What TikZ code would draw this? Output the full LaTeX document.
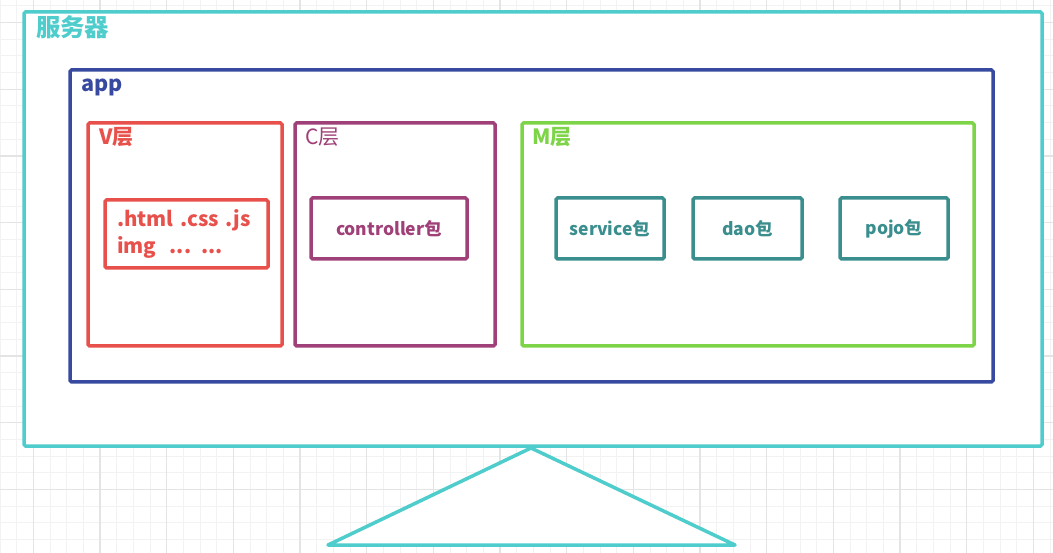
\documentclass[tikz,border=0pt]{standalone}
\usepackage{fontspec}
\setmainfont{Noto Sans CJK SC}
\definecolor{srvc}{RGB}{78,205,204}
\definecolor{appc}{RGB}{56,74,160}
\definecolor{vc}{RGB}{232,80,75}
\definecolor{cc}{RGB}{160,64,120}
\definecolor{mc}{RGB}{126,212,72}
\definecolor{pkc}{RGB}{58,142,142}
\definecolor{gminor}{RGB}{242,242,242}
\definecolor{gmajor}{RGB}{228,228,228}
\tikzset{
  box/.style={draw, line width=3.5pt, fill=white, rounded corners=1.5pt, anchor=north west, inner sep=0pt, outer sep=0pt},
  lbl/.style={anchor=base west, inner sep=0pt},
  minorline/.style={draw=gminor, line width=1pt},
  majorline/.style={draw=gmajor, line width=1.2pt},
}
\begin{document}
\begin{tikzpicture}[x=1pt,y=-1pt]
\useasboundingbox (0,0) rectangle (1053,553);
\fill[white] (0,0) rectangle (1053,553);
% grid
\foreach \i in {0,...,63} {\draw[minorline] (\i*16.667,0) -- (\i*16.667,553);}
\foreach \i in {0,...,33} {\draw[minorline] (0,6+\i*16.667) -- (1053,6+\i*16.667);}
\foreach \i in {0,...,15} {\draw[majorline] (33.33+\i*66.667,0) -- (33.33+\i*66.667,553);}
\foreach \i in {0,...,8} {\draw[majorline] (0,22.6+\i*66.667) -- (1053,22.6+\i*66.667);}
% server
\node[box, draw=srvc, minimum width=1018pt, minimum height=434pt] (server) at (24,12) {};
\node[lbl, text=srvc, font=\fontsize{24.4}{28}\selectfont\bfseries] (serverlbl) at (36,37) {服务器};
% app
\node[box, draw=appc, minimum width=923pt, minimum height=312pt] (app) at (70,70) {};
\node[lbl, text=appc, font=\fontsize{21.6}{24}\selectfont\bfseries] (applbl) at (81,92) {app};
% V layer
\node[box, draw=vc, minimum width=194pt, minimum height=223pt] (vlayer) at (88,123) {};
\node[lbl, text=vc, font=\fontsize{21}{24}\selectfont\bfseries] (vlbl) at (99,145) {V层};
\node[box, draw=vc, minimum width=163pt, minimum height=68pt, text=vc, align=left, text width=139pt,
      font=\fontsize{20.4}{27}\selectfont\bfseries] (vfiles) at (105,200) {.html .css .js\\img\ \ ... ...};
% C layer
\node[box, draw=cc, minimum width=200pt, minimum height=223pt] (clayer) at (295,123) {};
\node[lbl, text=cc, font=\fontsize{21}{24}\selectfont] (clbl) at (305,145) {C层};
\node[box, draw=cc, minimum width=156pt, minimum height=61pt, text=cc,
      font=\fontsize{17.5}{20}\selectfont\bfseries] (ctrl) at (311,198) {controller包};
% M layer
\node[box, draw=mc, minimum width=452pt, minimum height=223pt] (mlayer) at (522,123) {};
\node[lbl, text=mc, font=\fontsize{21}{24}\selectfont\bfseries] (mlbl) at (532,145) {M层};
\node[box, draw=pkc, minimum width=108pt, minimum height=61pt, text=pkc,
      font=\fontsize{17.5}{20}\selectfont\bfseries] (svc) at (556,198) {service包};
\node[box, draw=pkc, minimum width=109pt, minimum height=61pt, text=pkc,
      font=\fontsize{17.5}{20}\selectfont\bfseries] (dao) at (693,198) {dao包};
\node[box, draw=pkc, minimum width=108pt, minimum height=61pt, text=pkc,
      font=\fontsize{17.5}{20}\selectfont\bfseries] (pojo) at (840,198) {pojo包};
% stand
\coordinate (apex) at (531,448);
\coordinate (baseL) at (328,545);
\coordinate (baseR) at (735,545);
\draw[srvc, line width=3.5pt, fill=white, line join=round] (apex) -- (baseL) -- (baseR) -- cycle;
\end{tikzpicture}
\end{document}
